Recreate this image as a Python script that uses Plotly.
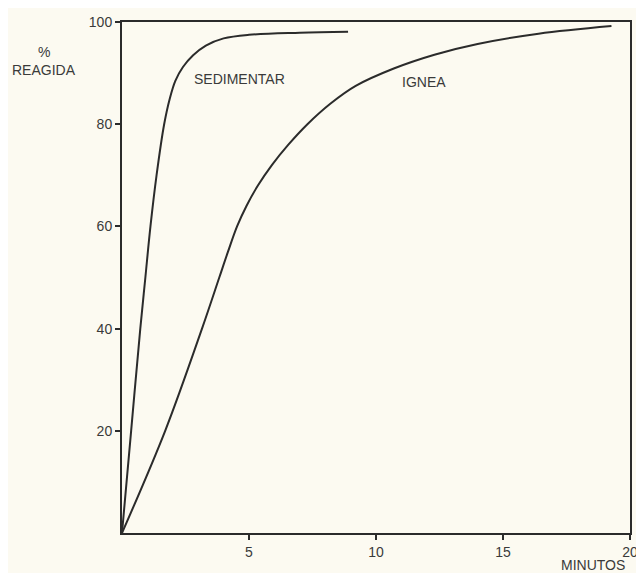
import plotly.graph_objects as go

# Data (minutes, % reacted)
sed_min = [0, 0.36, 0.72, 0.92, 1.12, 1.36, 1.66, 1.88, 2.1, 2.4, 2.8, 3.3, 4.0, 5.0, 7.0, 8.9]
sed_pct = [0, 20, 40, 50, 60, 70, 80, 85, 88.5, 91.2, 93.5, 95.4, 96.8, 97.5, 97.9, 98.1]

ign_min = [0, 1.7, 3.15, 3.83, 4.17, 4.53, 4.9, 5.35, 5.9, 6.55, 7.3, 8.2, 9.2, 10.7, 12.3, 14.0, 16.4, 19.27]
ign_pct = [0, 20, 40, 50, 55, 60, 64, 68, 72, 76, 80, 84, 87.5, 90.9, 93.6, 95.7, 97.7, 99.2]

x_ticks = [5, 10, 15, 20]
y_ticks = [20, 40, 60, 80, 100]

ink = "#2b2b2b"
txt = "#3a3a3a"
bg = "#fcfaf1"
font_family = "Liberation Sans, Arial, sans-serif"

fig = go.Figure()
fig.add_trace(go.Scatter(x=sed_min, y=sed_pct, mode="lines",
                         line=dict(color=ink, width=2, shape="spline", smoothing=1.0),
                         name="SEDIMENTAR", showlegend=False, hoverinfo="skip"))
fig.add_trace(go.Scatter(x=ign_min, y=ign_pct, mode="lines",
                         line=dict(color=ink, width=2, shape="spline", smoothing=1.0),
                         name="IGNEA", showlegend=False, hoverinfo="skip"))

axis_common = dict(showline=True, linecolor=ink, linewidth=2, mirror=True,
                   showgrid=False, zeroline=False, ticks="outside", ticklen=5,
                   tickwidth=1.5, tickcolor=ink,
                   tickfont=dict(family=font_family, size=14, color=txt))

fig.update_xaxes(range=[0, 20], tickvals=x_ticks, ticktext=[str(v) for v in x_ticks],
                 **axis_common)
fig.update_yaxes(range=[0, 100], tickvals=y_ticks, ticktext=[str(v) for v in y_ticks],
                 **axis_common)

ann_font = dict(family=font_family, size=14, color=txt)
fig.update_layout(
    width=636, height=565,
    margin=dict(l=114, r=6, t=12, b=40),
    paper_bgcolor=bg, plot_bgcolor=bg,
    annotations=[
        dict(text="%", xref="paper", yref="paper", x=-0.153, y=0.9415,
             showarrow=False, font=ann_font, xanchor="center", yanchor="middle"),
        dict(text="REAGIDA", xref="paper", yref="paper", x=-0.153, y=0.906,
             showarrow=False, font=ann_font, xanchor="center", yanchor="middle"),
        dict(text="SEDIMENTAR", xref="paper", yref="paper", x=0.137, y=0.889,
             showarrow=False, font=ann_font, xanchor="left", yanchor="middle"),
        dict(text="IGNEA", xref="paper", yref="paper", x=0.548, y=0.883,
             showarrow=False, font=ann_font, xanchor="left", yanchor="middle"),
        dict(text="MINUTOS", xref="paper", yref="paper", x=0.994, y=-0.0624,
             showarrow=False, font=ann_font, xanchor="right", yanchor="middle"),
    ],
)

fig.write_html("out.html")
